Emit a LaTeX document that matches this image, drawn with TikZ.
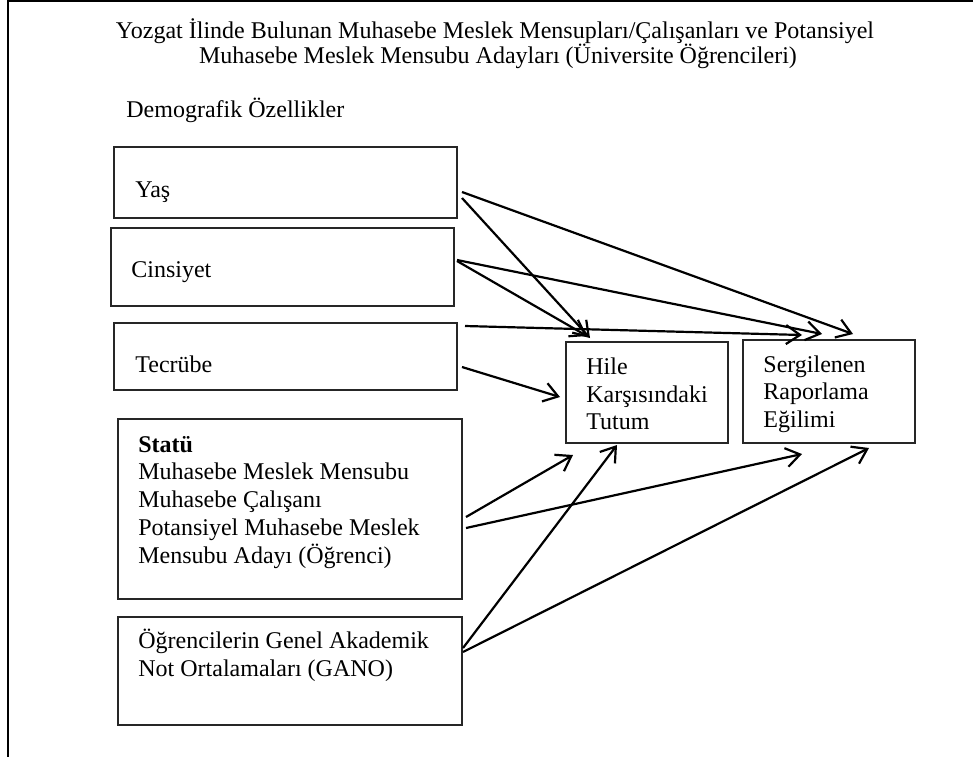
\documentclass[tikz,border=0pt]{standalone}
\usepackage{fontspec}
\setmainfont{Liberation Serif}
\usetikzlibrary{arrows.meta,fit}
\begin{document}
\begin{tikzpicture}[x=0.5pt,y=-0.5pt,
  box/.style={draw=black!85, line width=0.7pt, inner sep=0pt},
  txt/.style={anchor=base west, inner sep=0pt, font=\fontsize{12}{13.8}\selectfont},
  ttl/.style={anchor=base, inner sep=0pt, font=\fontsize{12}{13.8}\selectfont},
  arr/.style={line width=1.1pt, -{Straight Barb[length=7pt,width=9.5pt,line width=1.1pt]}}]
\useasboundingbox (0,0) rectangle (973,756);
% frame
\draw[line width=1.1pt] (8,757) -- (8,1) -- (974,1);
% titles
\node[ttl] (t1) at (495,38) {Yozgat İlinde Bulunan Muhasebe Meslek Mensupları/Çalışanları ve Potansiyel};
\node[ttl] (t2) at (498,63) {Muhasebe Meslek Mensubu Adayları (Üniversite Öğrencileri)};
\node[txt] (demo) at (126,117) {Demografik Özellikler};
% boxes
\node[box, fit={(114,147) (457,218)}] (yas) {};
\node[box, fit={(111,228) (454,306)}] (cins) {};
\node[box, fit={(114,323) (457,390)}] (tecr) {};
\node[box, fit={(118,419) (462,599)}] (statu) {};
\node[box, fit={(118,617) (462,725)}] (gano) {};
\node[box, fit={(566,342) (728,443)}] (hile) {};
\node[box, fit={(743,340) (915,443)}] (serg) {};
% texts
\node[txt] (yasT) at (135,197) {Yaş};
\node[txt] (cinsT) at (131,277) {Cinsiyet};
\node[txt] (tecrT) at (135,372) {Tecrübe};
\node[txt] (st1) at (138,452) {\bfseries Statü};
\node[txt] (st2) at (138,479) {Muhasebe Meslek Mensubu};
\node[txt] (st3) at (138,507) {Muhasebe Çalışanı};
\node[txt] (st4) at (138,535) {Potansiyel Muhasebe Meslek};
\node[txt] (st5) at (138,563) {Mensubu Adayı (Öğrenci)};
\node[txt] (g1) at (138,648) {Öğrencilerin Genel Akademik};
\node[txt] (g2) at (138,676) {Not Ortalamaları (GANO)};
\node[txt] (h1) at (586,374) {Hile};
\node[txt] (h2) at (586,402) {Karşısındaki};
\node[txt] (h3) at (586,429) {Tutum};
\node[txt] (s1) at (763,372) {Sergilenen};
\node[txt] (s2) at (763,399) {Raporlama};
\node[txt] (s3) at (763,427) {Eğilimi};
% connector ends
\coordinate (yasA) at (462,192);
\coordinate (yasB) at (462,198);
\coordinate (cinsA) at (457,260);
\coordinate (cinsB) at (457,261);
\coordinate (tecrA) at (465,326);
\coordinate (tecrB) at (462,367);
\coordinate (statuA) at (466,517);
\coordinate (statuB) at (466,528);
\coordinate (ganoA) at (463,648);
\coordinate (ganoB) at (463,652);
\coordinate (sergY) at (853,334);
\coordinate (sergC) at (822,334);
\coordinate (sergT) at (802,335);
\coordinate (sergS) at (802,454);
\coordinate (sergG) at (869,448);
\coordinate (hileY) at (590,338);
\coordinate (hileC) at (587,336);
\coordinate (hileT) at (560,397);
\coordinate (hileS) at (573,455);
\coordinate (hileG) at (617,445);
% arrows
\draw[arr] (yasA) -- (sergY);
\draw[arr] (yasB) -- (hileY);
\draw[arr] (cinsA) -- (sergC);
\draw[arr] (cinsB) -- (hileC);
\draw[arr] (tecrA) -- (sergT);
\draw[arr] (tecrB) -- (hileT);
\draw[arr] (statuA) -- (hileS);
\draw[arr] (statuB) -- (sergS);
\draw[arr] (ganoA) -- (hileG);
\draw[arr] (ganoB) -- (sergG);
\end{tikzpicture}
\end{document}
